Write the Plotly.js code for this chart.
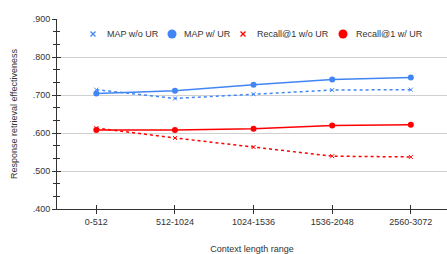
<!DOCTYPE html>
<html><head><meta charset="utf-8">
<script src="https://cdn.plot.ly/plotly-3.0.1.min.js"></script>
<style>html,body{margin:0;padding:0;background:#fff}#c{width:447px;height:254px}</style>
</head><body><div id="c"></div>
<script>
const categories = ['0-512','512-1024','1024-1536','1536-2048','2560-3072'];
const mapWithout = [0.714, 0.691, 0.702, 0.713, 0.714];
const mapWith = [0.704, 0.711, 0.727, 0.741, 0.746];
const recallWithout = [0.613, 0.587, 0.563, 0.539, 0.537];
const recallWith = [0.608, 0.608, 0.611, 0.620, 0.622];
const yTickVals = [0.4, 0.5, 0.6, 0.7, 0.8, 0.9];
const yTickText = ['.400', '.500', '.600', '.700', '.800', '.900'];
const seriesNames = ['MAP w/o UR', 'MAP w/ UR', 'Recall@1 w/o UR', 'Recall@1 w/ UR'];

const BLUE = '#4285F4', RED = '#FF0000';
const FAM = 'Liberation Sans, Arial, sans-serif';
const TXT = '#333';
const font = {family: FAM, size: 9, color: TXT};

function dotted(y, color) {
  return {x: categories, y: y, mode: 'lines+markers', showlegend: false,
    line: {color: color, width: 1.5, dash: 'dot'},
    marker: {symbol: 'x-thin', size: 4, line: {color: color, width: 1}, color: color}};
}
function solid(y, color) {
  return {x: categories, y: y, mode: 'lines+markers', showlegend: false,
    line: {color: color, width: 1.5},
    marker: {symbol: 'circle', size: 6, color: color}};
}

const traces = [
  dotted(mapWithout, BLUE), solid(mapWith, BLUE),
  dotted(recallWithout, RED), solid(recallWith, RED)
];

// manual legend (pixel layout on an auxiliary overlay axis pair)
const legMarkX = [93, 172, 243, 343];
const legTextX = [105, 182, 255, 354];
const legColors = [BLUE, BLUE, RED, RED];
const legSyms = ['x-thin', 'circle', 'x-thin', 'circle'];
const LEGY = 34;
legMarkX.forEach((px, i) => {
  const isX = legSyms[i] === 'x-thin';
  traces.push({x: [px], y: [LEGY], xaxis: 'x3', yaxis: 'y3', mode: 'markers', showlegend: false, hoverinfo: 'skip',
    marker: isX ? {symbol: 'x-thin', size: 5, color: legColors[i], line: {color: legColors[i], width: 1.3}}
                : {symbol: 'circle', size: 9, color: legColors[i]}});
});
const annotations = legTextX.map((px, i) => ({
  x: px, y: LEGY, xref: 'x3', yref: 'y3', text: seriesNames[i], showarrow: false,
  xanchor: 'left', yanchor: 'middle', font: {family: FAM, size: 9, color: TXT}
}));

const layout = {
  width: 447, height: 254,
  margin: {l: 57, r: 0, t: 19, b: 45},
  paper_bgcolor: '#fff', plot_bgcolor: '#fff',
  font: font,
  showlegend: false,
  annotations: annotations,
  xaxis: {type: 'category', range: [-0.5, 4.46], showgrid: false, zeroline: false,
    showline: true, linecolor: '#333', linewidth: 1, ticks: 'outside', ticklen: 4, tickcolor: '#333',
    tickfont: {family: FAM, size: 9, color: TXT},
    title: {text: 'Context length range', font: {family: FAM, size: 9, color: TXT}, standoff: 19}},
  yaxis: {range: [0.4, 0.9], tickvals: yTickVals, ticktext: yTickText, showgrid: true, gridcolor: '#d0d0d0',
    zeroline: false, showline: true, linecolor: '#333', linewidth: 1, ticks: 'outside', ticklen: 4, tickcolor: '#333',
    minor: {dtick: 0.1/3, ticks: 'outside', ticklen: 3, tickcolor: '#333', showgrid: false},
    tickfont: {family: FAM, size: 9, color: TXT},
    title: {text: 'Response retrieval effectiveness', font: {family: FAM, size: 9, color: TXT}, standoff: 13}},
  yaxis2: {overlaying: 'y', range: [0.4, 0.9], tickvals: yTickVals, showticklabels: false, showgrid: false,
    zeroline: false, showline: false, ticks: 'inside', ticklen: 4, tickcolor: '#333',
    minor: {dtick: 0.1/3, ticks: 'inside', ticklen: 3, tickcolor: '#333', showgrid: false}},
  xaxis2: {overlaying: 'x', type: 'category', range: [-0.5, 4.46], showticklabels: false, showgrid: false,
    zeroline: false, showline: false, ticks: 'inside', ticklen: 4, tickcolor: '#333', anchor: 'y'},
  xaxis3: {overlaying: 'x', range: [57, 447], visible: false, anchor: 'y3'},
  yaxis3: {overlaying: 'y', range: [209, 19], visible: false, anchor: 'x3'}
};
traces.push({x: categories, y: mapWith, xaxis: 'x2', yaxis: 'y2', mode: 'markers', showlegend: false, hoverinfo: 'skip', marker: {opacity: 0}});
Plotly.newPlot('c', traces, layout, {staticPlot: true});
</script></body></html>
